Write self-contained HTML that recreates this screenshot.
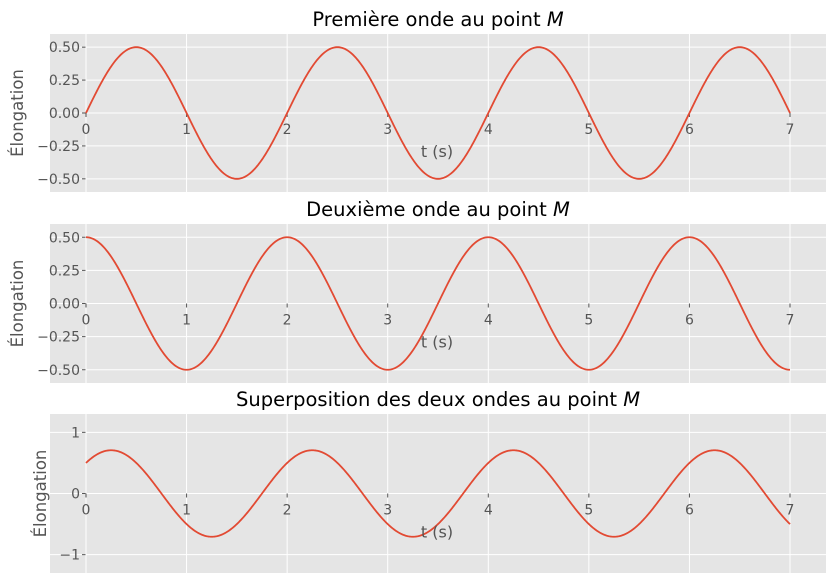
<!DOCTYPE html>
<html><head><meta charset="utf-8"><style>
body{margin:0;background:#fff;}
svg{display:block;font-family:"DejaVu Sans","Liberation Sans",sans-serif;}
</style></head><body>
<svg id="c" width="829" height="578"></svg>
<script>
const xTicks=[0,1,2,3,4,5,6,7];
const amplitudes=[0.5,0.5];
const periods=[2,2];
const phases=[0,Math.PI/2];
const titles=["Première onde au point ","Deuxième onde au point ","Superposition des deux ondes au point "];
const yTicks1=[0.5,0.25,0,-0.25,-0.5];
const yTicks2=[0.5,0.25,0,-0.25,-0.5];
const yTicks3=[1,0,-1];
const yLabels1=["0.50","0.25","0.00","−0.25","−0.50"];
const yLabels3=["1","0","−1"];
const tMax=7;
const nSamples=701;

const svg=document.getElementById('c');
const NS='http://www.w3.org/2000/svg';
function mk(t,a,p){const e=document.createElementNS(NS,t);for(const k in a)e.setAttribute(k,a[k]);(p||svg).appendChild(e);return e;}
const panels=[
 {top:34,bot:192,ylim:0.6,ticks:yTicks1,labels:yLabels1,name:'first-wave'},
 {top:224,bot:383,ylim:0.6,ticks:yTicks2,labels:yLabels1,name:'second-wave'},
 {top:414,bot:573,ylim:1.3,ticks:yTicks3,labels:yLabels3,name:'superposition'}
];
const L=50,R=826;
const xs=v=>86+v*(790-86)/7;
function wave(i,t){return amplitudes[i]*Math.sin(2*Math.PI*t/periods[i]+phases[i]);}
panels.forEach((p,pi)=>{
 const g=mk('g',{});
 
 
 const ys=v=>(p.top+p.bot)/2-v*(p.bot-p.top)/2/p.ylim;
 const x0=xs(0);
 mk('rect',{x:L,y:p.top,width:R-L,height:p.bot-p.top,fill:'#e5e5e5'},g);
 p.ticks.forEach((v,i)=>{
  mk('line',{x1:L,x2:R,y1:ys(v),y2:ys(v),stroke:'#fff','stroke-width':1},g);
  mk('line',{x1:x0-4,x2:x0,y1:ys(v),y2:ys(v),stroke:'#555'},g);
  const t=mk('text',{x:x0-6,y:ys(v)+5,'text-anchor':'end','font-size':14,fill:'#555'},g);
  t.textContent=p.labels[i];
  
  
 });
 xTicks.forEach(v=>{
  mk('line',{x1:xs(v),x2:xs(v),y1:p.top,y2:p.bot,stroke:'#fff','stroke-width':1},g);
  mk('line',{x1:xs(v),x2:xs(v),y1:ys(0),y2:ys(0)+4,stroke:'#555'},g);
  const t=mk('text',{x:xs(v),y:ys(0)+21,'text-anchor':'middle','font-size':14,fill:'#555'},g);
  t.textContent=v;
  
  
 });
 let d='';
 for(let k=0;k<nSamples;k++){
  const t=tMax*k/(nSamples-1);
  const v=pi<2?wave(pi,t):wave(0,t)+wave(1,t);
  d+=(k?'L':'M')+xs(t).toFixed(2)+' '+ys(v).toFixed(2);
 }
 const path=mk('path',{d:d,fill:'none',stroke:'#e24a33','stroke-width':1.8},g);
 
 
 const xl=mk('text',{x:437,y:ys(0)+44,'text-anchor':'middle','font-size':16,fill:'#555'},g);
 xl.textContent='t (s)';
 
 
 const yl=mk('text',{x:0,y:0,'text-anchor':'middle','font-size':16.5,fill:'#555',transform:`translate(${pi<2?23:46},${(p.top+p.bot)/2}) rotate(-90)`},g);
 yl.textContent='Élongation';
 
 
 const ti=mk('text',{x:438,y:p.top-8,'text-anchor':'middle','font-size':19.5,fill:'#000'},g);
 ti.textContent=titles[pi];
 const m=mk('tspan',{'font-style':'italic'},ti);m.textContent='M';
 
 
});
</script>
</body></html>
